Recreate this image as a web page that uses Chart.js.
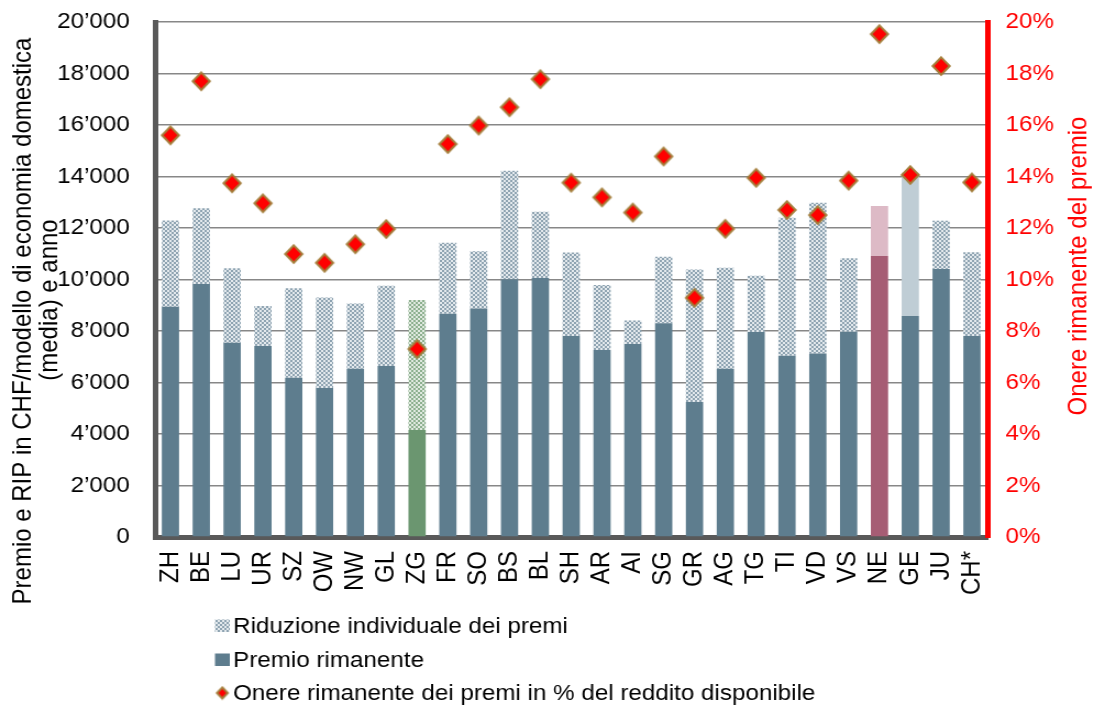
<!DOCTYPE html>
<html>
<head>
<meta charset="utf-8">
<script src="https://cdn.jsdelivr.net/npm/chart.js@4.4.1/dist/chart.umd.min.js"></script>
<style>
html, body { margin: 0; padding: 0; background: #fff; overflow: hidden; }
</style>
</head>
<body>
<!-- il grafico originale e' leggermente allargato in orizzontale: canvas 995 px mostrato a 1094 px -->
<canvas id="premiChart" width="995" height="705" style="width:1094px;height:705px;display:block"></canvas>
<script>
const cantoni = ['ZH', 'BE', 'LU', 'UR', 'SZ', 'OW', 'NW', 'GL', 'ZG', 'FR', 'SO', 'BS', 'BL', 'SH',
    'AR', 'AI', 'SG', 'GR', 'AG', 'TG', 'TI', 'VD', 'VS', 'NE', 'GE', 'JU', 'CH*'];

// CHF per modello di economia domestica
const premioRimanente = [8940, 9825, 7540, 7420, 6180, 5790, 6530, 6640, 4155, 8670, 8875, 10010, 10055, 7805,
    7260, 7495, 8305, 5245, 6530, 7960, 7035, 7125, 7975, 10910, 8585, 10410, 7805];
const riduzionePremi = [3350, 2945, 2900, 1550, 3485, 3510, 2535, 3120, 5050, 2755, 2225, 4210, 2575, 3245,
    2525, 915, 2575, 5145, 3925, 2190, 5360, 5860, 2850, 1945, 5565, 1875, 3250];

// onere in % del reddito disponibile
const onerePercento = [15.6, 17.7, 13.74, 12.96, 10.99, 10.65, 11.37, 11.96, 7.3, 15.26, 15.98, 16.69, 17.78, 13.76,
    13.19, 12.6, 14.78, 9.29, 11.97, 13.95, 12.7, 12.5, 13.84, 19.53, 14.06, 18.29, 13.77];

const titoloY = ['Premio e RIP in CHF/modello di economia domestica', '(media) e anno'];
const titoloY1 = 'Onere rimanente del premio';
const etichetteLegenda = ['Riduzione individuale dei premi', 'Premio rimanente', 'Onere rimanente dei premi in % del reddito disponibile'];

const FONT = '"Liberation Sans", Arial, Helvetica, sans-serif';
Chart.defaults.font.family = FONT;
Chart.defaults.color = '#000';

// motivo a scacchi per la riduzione
function scacchi(chiaro, scuro) {
    const c = document.createElement('canvas');
    c.width = 4; c.height = 4;
    const g = c.getContext('2d');
    g.fillStyle = chiaro; g.fillRect(0, 0, 4, 4);
    g.fillStyle = scuro; g.fillRect(0, 0, 2, 2); g.fillRect(2, 2, 2, 2);
    return g.createPattern(c, 'repeat');
}

function rombo(w, h) {
    const c = document.createElement('canvas');
    c.width = Math.ceil(w) + 2; c.height = Math.ceil(h) + 2;
    const g = c.getContext('2d');
    const cx = c.width / 2, cy = c.height / 2;
    g.beginPath();
    g.moveTo(cx, cy - h / 2 + 1);
    g.lineTo(cx + w / 2 - 1, cy);
    g.lineTo(cx, cy + h / 2 - 1);
    g.lineTo(cx - w / 2 + 1, cy);
    g.closePath();
    g.fillStyle = '#ff0000'; g.fill();
    g.lineWidth = 2; g.strokeStyle = '#a47d3a'; g.stroke();
    return c;
}

const patBlu = scacchi('#e3e9ed', '#8fa4b2');
const patVerde = scacchi('#dfe9df', '#8db08f');
const romboGrande = rombo(17.5, 19.4);
const romboPiccolo = rombo(11.8, 13);

const coloreBase = cantoni.map(c => c === 'ZG' ? '#6b9670' : (c === 'NE' ? '#a65d74' : '#5e7d8e'));
const coloreRid = cantoni.map(c => {
    if (c === 'ZG') return patVerde;
    if (c === 'NE') return '#ddbac6';
    if (c === 'GE') return '#bfcdd5';
    return patBlu;
});

function formatoCHF(v) {
    return String(v).replace(/\B(?=(\d{3})+(?!\d))/g, '\u2019');
}

function testoRuotato(ctx, testo, x, y) {
    ctx.save();
    ctx.translate(x, y);
    ctx.rotate(-Math.PI / 2);
    ctx.fillText(testo, 0, 0);
    ctx.restore();
}

// larghezza fissa degli assi verticali, senza margine extra sopra/sotto
function fissaLarghezza(w) {
    return function(scale) {
        scale.width = w;
        scale.paddingTop = 0;
        scale.paddingBottom = 0;
    };
}

// titoli degli assi (letti dal basso in alto) e legenda verticale
const testiExtra = {
    id: 'testiExtra',
    afterDraw(chart) {
        const ctx = chart.ctx;
        ctx.save();
        ctx.textAlign = 'center';
        ctx.textBaseline = 'middle';
        ctx.font = '24px ' + FONT;
        ctx.fillStyle = '#000';
        testoRuotato(ctx, titoloY[0], 21, 321);
        testoRuotato(ctx, titoloY[1], 45, 300);
        ctx.fillStyle = '#ff0000';
        testoRuotato(ctx, titoloY1, 981, 266);

        ctx.font = '22px ' + FONT;
        ctx.textAlign = 'left';
        const righe = [626, 660, 693];
        const ds = chart.data.datasets;
        // ordine della legenda: riduzione, premio, onere
        const voci = [ds[1], ds[0], ds[2]];
        voci.forEach((d, i) => {
            const y = righe[i];
            if (d.type === 'line') {
                ctx.drawImage(romboPiccolo, 195.5 + 6.75 - romboPiccolo.width / 2, y - romboPiccolo.height / 2);
            } else {
                ctx.fillStyle = i === 0 ? patBlu : '#5e7d8e';
                ctx.fillRect(195.5, y - 6.5, 13.5, 12.5);
            }
            ctx.fillStyle = '#000';
            ctx.fillText(d.label, 212, y + 1);
        });
        ctx.restore();
    }
};

const ctx = document.getElementById('premiChart').getContext('2d');
new Chart(ctx, {
    data: {
        labels: cantoni,
        datasets: [
            {
                type: 'bar',
                label: etichetteLegenda[1],
                data: premioRimanente,
                backgroundColor: coloreBase,
                stack: 'premi',
                order: 1,
                categoryPercentage: 1,
                barPercentage: 0.56
            },
            {
                type: 'bar',
                label: etichetteLegenda[0],
                data: riduzionePremi,
                backgroundColor: coloreRid,
                stack: 'premi',
                order: 1,
                categoryPercentage: 1,
                barPercentage: 0.56
            },
            {
                type: 'line',
                label: etichetteLegenda[2],
                data: onerePercento,
                yAxisID: 'y1',
                showLine: false,
                pointStyle: romboGrande,
                pointRadius: 9,
                order: 0
            }
        ]
    },
    options: {
        responsive: false,
        animation: false,
        devicePixelRatio: 1,
        layout: { autoPadding: false, padding: { top: 22, left: 0, right: 0, bottom: 0 } },
        plugins: {
            legend: { display: false },
            tooltip: { enabled: false }
        },
        scales: {
            x: {
                stacked: true,
                grid: { display: false, drawTicks: false },
                border: { color: '#595959', width: 5 },
                ticks: {
                    autoSkip: false,
                    maxRotation: 90,
                    minRotation: 90,
                    padding: 14,
                    color: '#000',
                    font: { size: 24 }
                },
                afterFit: function(scale) { scale.height = 168; }
            },
            y: {
                stacked: true,
                min: 0,
                max: 20000,
                grid: { color: '#878787', lineWidth: 1.6, drawTicks: false },
                border: { color: '#595959', width: 5 },
                ticks: {
                    stepSize: 2000,
                    padding: 23,
                    color: '#000',
                    font: { size: 22 },
                    callback: v => formatoCHF(v)
                },
                afterFit: fissaLarghezza(141)
            },
            y1: {
                position: 'right',
                min: 0,
                max: 20,
                grid: { display: false, drawTicks: false },
                border: { color: '#ff0000', width: 5 },
                ticks: {
                    stepSize: 2,
                    padding: 16.5,
                    color: '#ff0000',
                    font: { size: 22 },
                    callback: v => v + '%'
                },
                afterFit: fissaLarghezza(97)
            }
        }
    },
    plugins: [testiExtra]
});
</script>
</body>
</html>
